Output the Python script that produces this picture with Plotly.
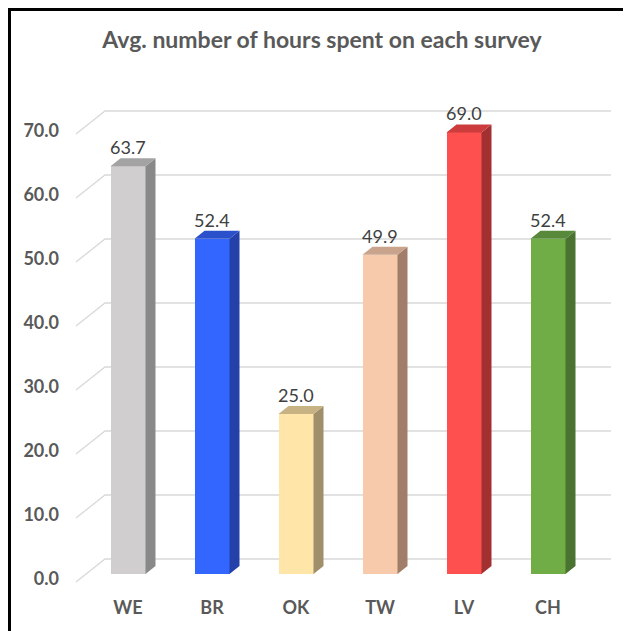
import plotly.graph_objects as go

# data
categories = ["WE", "BR", "OK", "TW", "LV", "CH"]
hours = [63.7, 52.4, 25.0, 49.9, 69.0, 52.4]
y_ticks = [0, 10, 20, 30, 40, 50, 60, 70]

# colours: front face, side face, top face
front_colors = ["#d0cece", "#3366ff", "#ffe6a8", "#f7caac", "#ff5050", "#70ad47"]
side_colors = ["#898989", "#2341a8", "#a08f6b", "#a17e6a", "#a33030", "#4a7230"]
top_colors = ["#a3a3a3", "#2a50cc", "#c7b283", "#c9a38b", "#cc3c3c", "#58893a"]

OFF = 8  # page body margin, figure starts 8px in from the window edge
W, H = 631 - OFF, 631 - OFF
L, R, T, B = 52, 3, 52, 36
PX_X = 84.0   # pixels per category
PX_Y = 6.4    # pixels per hour
X0_PX = 128 - OFF   # first category centre
Y0_PX = 574 - OFF   # bar base


def xv(px):
    # window pixel -> x data value
    return (px - OFF - X0_PX) / PX_X


def yv(px):
    # window pixel -> y data value
    return (Y0_PX - (px - OFF)) / PX_Y


bar_w = 35 / PX_X
dx = 10 / PX_X
dy = 8 / PX_Y
back_dy = 15 / PX_Y
front_dy = -8 / PX_Y
wall_x0, wall_x1 = xv(105), xv(611)
edge_x = xv(76)

fig = go.Figure()

# back wall gridlines and diagonal floor edges, drawn under the bars
shapes = []
for v in y_ticks:
    shapes.append(dict(type="path", xref="x", yref="y", layer="below",
                       path=f"M {edge_x},{v + front_dy} L {wall_x0},{v + back_dy} L {wall_x1},{v + back_dy}",
                       line=dict(color="#d9d9d9", width=1.3)))

xs = list(range(len(categories)))
for i, v in zip(xs, hours):
    xr = i + bar_w / 2
    xl = i - bar_w / 2
    # side face
    fig.add_trace(go.Scatter(
        x=[xr, xr + dx, xr + dx, xr, xr], y=[0, dy, v + dy, v, 0],
        mode="lines", fill="toself", fillcolor=side_colors[i],
        line=dict(width=0), hoverinfo="skip", showlegend=False))
    # top face
    fig.add_trace(go.Scatter(
        x=[xl, xl + dx, xr + dx, xr, xl], y=[v, v + dy, v + dy, v, v],
        mode="lines", fill="toself", fillcolor=top_colors[i],
        line=dict(width=0), hoverinfo="skip", showlegend=False))

fig.add_trace(go.Bar(x=xs, y=hours, width=bar_w,
                     marker=dict(color=front_colors, line=dict(width=0)),
                     showlegend=False))

for i, v in zip(xs, hours):
    fig.add_annotation(x=i, y=v, text=f"{v:.1f}", showarrow=False, yanchor="bottom",
                       yshift=6, font=dict(family="Lato", size=18, color="#404040"))

plot_w = W - L - R
plot_h = H - T - B
# black frame on the top and left edges
shapes.append(dict(type="rect", xref="paper", yref="paper",
                   x0=(1.5 - L) / plot_w, x1=(W + 20 - L) / plot_w,
                   y0=(H - B - (H + 20)) / plot_h, y1=(H - B - 1.5) / plot_h,
                   line=dict(color="black", width=3), fillcolor="rgba(0,0,0,0)", layer="above"))

fig.update_layout(
    width=W, height=H, autosize=False,
    margin=dict(l=L, r=R, t=T, b=B),
    plot_bgcolor="white", paper_bgcolor="white",
    bargap=0,
    title=dict(text="<b>Avg. number of hours spent on each survey</b>",
               x=(322 - OFF) / W, xref="container", xanchor="center",
               y=1 - (40 - OFF) / H, yref="container", yanchor="middle",
               font=dict(family="Lato", size=23, color="#595959")),
    xaxis=dict(range=[xv(L + OFF), xv(W - R + OFF)], tickvals=xs,
               ticktext=[f"<b>{c}</b>" for c in categories],
               showgrid=False, zeroline=False, showline=False, ticks="",
               tickfont=dict(family="Lato", size=18, color="#595959")),
    yaxis=dict(range=[yv(H - B + OFF), yv(T + OFF)],
               tickvals=[v - 5 / PX_Y for v in y_ticks],
               ticktext=[f"<b>{v:.1f}</b>" for v in y_ticks],
               showgrid=False, zeroline=False, showline=False, ticks="",
               tickfont=dict(family="Lato", size=18, color="#595959")),
    shapes=shapes,
)

fig.write_html("out.html")
